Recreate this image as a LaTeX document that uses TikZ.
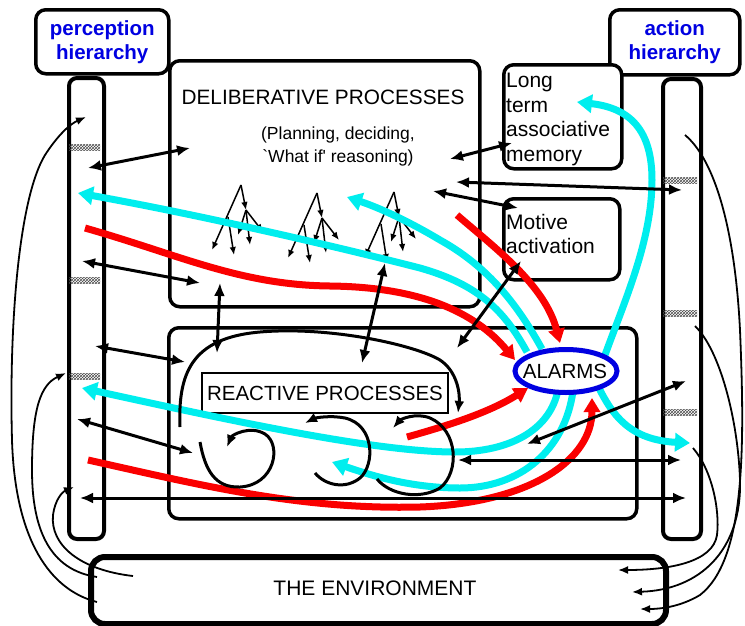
\documentclass[tikz,border=0pt]{standalone}
\usepackage{fontspec}
\setmainfont{Liberation Sans}
\usetikzlibrary{arrows.meta,patterns,shapes.geometric,positioning}

\definecolor{flowcyan}{RGB}{0,238,238}
\definecolor{flowred}{RGB}{250,0,0}
\definecolor{hierblue}{RGB}{0,0,225}

\newcommand\boxfont{\fontsize{21}{24.5}\selectfont}

\tikzset{
  box/.style={draw, line width=3.5pt, rounded corners=10pt, anchor=north west, inner sep=0pt, fill=white},
  column/.style={draw, line width=4pt, rounded corners=8pt, anchor=north west, inner sep=0pt},
  hlabel/.style={font=\fontsize{20.5}{24}\selectfont\bfseries, text=hierblue, align=center},
  link/.style={line width=3pt, {Latex[length=13pt,width=11pt]}-{Latex[length=13pt,width=11pt]}},
  twig/.style={line width=1.5pt, -{Latex[length=8pt,width=6.5pt]}},
  feed/.style={line width=1.8pt, -{Latex[length=10pt,width=8pt]}},
  loopy/.style={line width=3pt, -{Latex[length=12pt,width=10pt]}},
  hot/.style={flowred, line width=7pt, -{Triangle[length=14pt,width=16pt]}},
  cool/.style={flowcyan, line width=7pt, -{Triangle[length=15pt,width=18pt]}},
  hatch/.style={pattern=crosshatch, pattern color=black!70},
  alarmring/.style={draw=hierblue, fill=white, line width=5pt},
}

\begin{document}
\begin{tikzpicture}[x=1pt,y=-1pt]
  \useasboundingbox (0,0) rectangle (745,625);

  % the two hierarchies
  \node[box, hlabel, minimum width=133pt, minimum height=64pt] (perhead) at (34,8) {perception\\hierarchy};
  \node[column, minimum width=35pt, minimum height=461pt] (percol) at (67,76) {};
  \node[box, hlabel, minimum width=130pt, minimum height=65pt] (acthead) at (608,8) {action\\hierarchy};
  \node[column, minimum width=38pt, minimum height=460pt] (actcol) at (661,77) {};
  \foreach \hy in {147,280,376}
    \fill[hatch] (69,\hy-3) rectangle (100,\hy+3);
  \foreach \hy in {180,313,412}
    \fill[hatch] (663,\hy-3) rectangle (697,\hy+3);

  % central boxes
  \node[box, line width=3.5pt, minimum width=310pt, minimum height=246pt] (delib) at (168,59) {};
  \node[font=\fontsize{20.8}{24}\selectfont] (deltitle) at (323,97) {DELIBERATIVE PROCESSES};
  \node[font=\fontsize{17.5}{23}\selectfont, align=center] (delsub) at (338,146)
    {(Planning, deciding,\\\textasciigrave What if\textquotesingle\ reasoning)};
  \node[box, minimum width=118pt, minimum height=104pt] (ltm) at (502,63) {};
  \node[anchor=north west, align=left, inner sep=0pt, font=\boxfont] (ltmtext) at (506,73)
    {Long\\term\\associative\\memory};
  \node[box, minimum width=116pt, minimum height=81pt] (motive) at (502,197) {};
  \node[anchor=north west, align=left, inner sep=0pt, font=\boxfont] (motivetext) at (506,214)
    {Motive\\activation};
  \node[box, minimum width=468pt, minimum height=191pt] (react) at (167,326) {};
  \node[draw, line width=1.8pt, fill=white, minimum width=246pt, minimum height=40pt,
    font=\fontsize{20.5}{24}\selectfont] (reacttitle) at (325,393) {REACTIVE PROCESSES};

  % the environment
  \node[box, line width=6pt, rounded corners=14pt, minimum width=575pt, minimum height=67pt] (env) at (88,554) {};
  \node[font=\fontsize{21}{24}\selectfont] (envtext) at (375,588) {THE ENVIRONMENT};

  % trees of options
  \foreach \tx/\ty in {241/185, 317/193, 394/192} {
    \begin{scope}[shift={(\tx,\ty)}]
      \draw[twig] (0,0) -- (5,25);
      \draw[twig] (5,25) -- (-3,50);
      \draw[twig] (5,25) -- (9,60);
      \draw[twig] (5,25) -- (22,47);
      \draw[twig] (0,0) -- (-29,65);
      \draw[twig] (-13,32) -- (-7,70);
    \end{scope}
  }

  % red flows into the alarms
  \draw[hot] (85,228) .. controls (180,255) and (240,285) .. (330,286)
    .. controls (420,287) and (475,312) .. (515,360);
  \draw[hot] (457,215) .. controls (495,248) and (545,285) .. (560,343);
  \draw[hot] (407,437) .. controls (450,425) and (490,412) .. (528,388);
  \draw[hot] (88,460) .. controls (200,485) and (300,510) .. (420,507)
    .. controls (530,503) and (592,460) .. (592,398);

  % cyan flows out of the alarms
  \draw[cool] (527,352) .. controls (505,312) and (480,285) .. (420,268)
    .. controls (330,245) and (200,215) .. (78,193);
  \draw[cool] (542,349) .. controls (515,300) and (485,265) .. (440,240)
    .. controls (410,222) and (380,208) .. (347,197);
  \draw[cool] (605,355) .. controls (625,300) and (652,240) .. (652,180)
    .. controls (652,130) and (630,108) .. (577,102);
  \draw[cool] (598,386) .. controls (612,415) and (630,440) .. (690,443);
  \draw[cool] (558,390) .. controls (550,430) and (510,452) .. (455,452)
    .. controls (380,452) and (250,425) .. (82,388);
  \draw[cool] (573,391) .. controls (565,450) and (520,488) .. (460,488)
    .. controls (410,488) and (370,475) .. (332,462);

  % end points of the black links
  \coordinate (pd1) at (88,168);   \coordinate (dp1) at (190,148);
  \coordinate (pd2) at (82,261);   \coordinate (dp2) at (200,283);
  \coordinate (dr1) at (220,283);  \coordinate (rd1) at (217,353);
  \coordinate (pr1) at (95,346);   \coordinate (rp1) at (185,362);
  \coordinate (pr2) at (77,419);   \coordinate (rp2) at (193,453);
  \coordinate (pa1) at (80,498);   \coordinate (ap1) at (686,498);
  \coordinate (ra1) at (458,460);  \coordinate (ar1) at (681,460);
  \coordinate (ra2) at (527,444);  \coordinate (ar2) at (686,381);
  \coordinate (da1) at (456,182);  \coordinate (ad1) at (682,190);
  \coordinate (dl1) at (450,159);  \coordinate (ld1) at (512,143);
  \coordinate (dm1) at (433,191);  \coordinate (md1) at (518,208);
  \coordinate (rm1) at (457,348);  \coordinate (mr1) at (521,261);
  \coordinate (dr2) at (385,263);  \coordinate (rd2) at (362,363);

  \draw[link] (pd1) -- (dp1);
  \draw[link] (pd2) -- (dp2);
  \draw[link] (dr1) -- (rd1);
  \draw[link] (pr1) -- (rp1);
  \draw[link] (pr2) -- (rp2);
  \draw[link] (pa1) -- (ap1);
  \draw[link] (ra1) -- (ar1);
  \draw[link] (ra2) -- (ar2);
  \draw[link] (da1) -- (ad1);
  \draw[link] (dl1) -- (ld1);
  \draw[link] (dm1) -- (md1);
  \draw[link] (rm1) -- (mr1);
  \draw[link] (dr2) -- (rd2);

  % reactive loops
  \draw[loopy] (180,427) .. controls (178,375) and (190,338) .. (260,332)
    .. controls (330,326) and (415,345) .. (440,360)
    .. controls (458,372) and (460,395) .. (458,413);
  \draw[loopy] (200,442) .. controls (205,470) and (215,488) .. (240,487)
    .. controls (275,485) and (282,445) .. (265,434)
    .. controls (250,425) and (232,435) .. (227,447);
  \draw[loopy] (315,473) .. controls (325,485) and (345,490) .. (360,478)
    .. controls (375,465) and (375,425) .. (345,418)
    .. controls (330,415) and (315,418) .. (305,423);
  \draw[loopy] (377,479) .. controls (390,495) and (420,500) .. (440,488)
    .. controls (460,472) and (458,430) .. (430,418)
    .. controls (415,412) and (400,420) .. (393,428);

  % the alarm system
  \draw[alarmring] (566,371) ellipse [x radius=51pt, y radius=21.5pt];
  \node[font=\fontsize{20.5}{24}\selectfont, inner sep=0pt] (alarms) at (565,371) {ALARMS};

  % feedback through the environment
  \draw[feed] (97,602) .. controls (50,590) and (15,540) .. (12,440)
    .. controls (9,330) and (18,200) .. (45,155)
    .. controls (58,135) and (70,124) .. (86,117);
  \draw[feed] (97,577) .. controls (50,570) and (32,530) .. (32,470)
    .. controls (32,410) and (40,385) .. (66,373);
  \draw[feed] (133,576) .. controls (80,570) and (50,545) .. (53,515)
    .. controls (55,500) and (62,492) .. (74,487);
  \draw[feed] (685,135) .. controls (715,160) and (735,230) .. (740,330)
    .. controls (745,450) and (745,560) .. (700,595)
    .. controls (680,607) and (660,609) .. (640,609);
  \draw[feed] (695,326) .. controls (720,350) and (738,420) .. (740,480)
    .. controls (742,550) and (700,590) .. (632,592);
  \draw[feed] (693,448) .. controls (712,470) and (720,510) .. (717,535)
    .. controls (713,562) and (670,570) .. (618,570);
\end{tikzpicture}
\end{document}
